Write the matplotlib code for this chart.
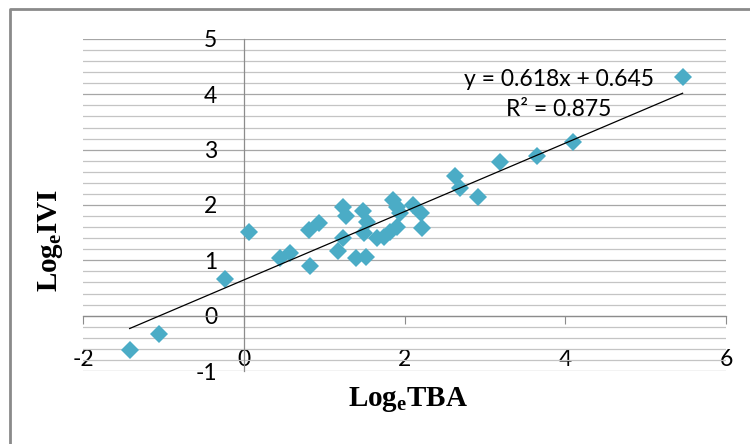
import numpy as np
import matplotlib
matplotlib.use("Agg")
import matplotlib.pyplot as plt
from matplotlib.lines import Line2D

# =========================================================
# DATA
# =========================================================

log_tba = [-1.42, -1.05, -0.23, 0.06, 0.45, 0.57, 0.83, 0.81, 0.94, 1.17,
           1.24, 1.24, 1.27, 1.40, 1.52, 1.48, 1.53, 1.49, 1.66, 1.74,
           1.86, 1.82, 1.91, 1.95, 1.91, 2.11, 2.20, 2.22, 2.63, 2.69,
           2.92, 3.19, 3.65, 4.10, 5.46]
log_ivi = [-0.62, -0.33, 0.66, 1.52, 1.04, 1.14, 0.90, 1.55, 1.67, 1.16,
           1.40, 1.97, 1.80, 1.04, 1.06, 1.90, 1.70, 1.49, 1.40, 1.43,
           2.09, 1.52, 1.61, 1.85, 1.97, 2.00, 1.85, 1.58, 2.52, 2.30,
           2.15, 2.78, 2.89, 3.14, 4.32]

slope = 0.618
intercept = 0.645
r2 = 0.875

x_ticks = [-2, 0, 2, 4, 6]
y_ticks = [-1, 0, 1, 2, 3, 4, 5]

# =========================================================
# STYLE
# =========================================================

plt.rcParams['font.family'] = ['Lato', 'DejaVu Sans']
plt.rcParams['axes.unicode_minus'] = False
plt.rcParams['mathtext.fontset'] = 'custom'
plt.rcParams['mathtext.rm'] = 'Liberation Serif'
plt.rcParams['mathtext.bf'] = 'Liberation Serif:bold'

marker_col = '#4bacc6'
axis_col = '#8c8c8c'
grid_major = '#a6a6a6'
grid_minor = '#c4c4c4'
tick_size = 16.5

# =========================================================
# PLOT
# =========================================================

fig = plt.figure(figsize=(7.5, 4.44), dpi=100)
ax = fig.add_axes([0.1107, 0.1644, 0.8573, 0.7478])

ax.plot(log_tba, log_ivi, linestyle='none', marker='D', markersize=9.5,
        color=marker_col, markeredgewidth=0, zorder=3)

# trendline over the data range
xl = np.array([min(log_tba), max(log_tba)])
ax.plot(xl, slope * xl + intercept, color='black', linewidth=0.9, zorder=4)

ax.set_xlim(-2, 6)
ax.set_ylim(-1, 5)
ax.set_xticks(x_ticks)
ax.set_yticks(y_ticks)
ax.set_yticks(np.arange(-1, 5.01, 0.2), minor=True)

ax.yaxis.grid(True, which='major', color=grid_major, linewidth=0.9)
ax.yaxis.grid(True, which='minor', color=grid_minor, linewidth=0.9)
ax.set_axisbelow(True)

for s in ['top', 'right']:
    ax.spines[s].set_visible(False)
ax.spines['left'].set_position(('data', 0))
ax.spines['bottom'].set_position(('data', 0))
ax.spines['left'].set_color(axis_col)
ax.spines['bottom'].set_color(axis_col)
ax.spines['left'].set_linewidth(0.9)
ax.spines['bottom'].set_linewidth(0.9)

ax.tick_params(axis='y', which='both', length=0, pad=19, labelsize=tick_size)
ax.tick_params(axis='x', which='major', direction='out', length=5.8,
               color=axis_col, pad=18, labelsize=tick_size)
ax.tick_params(axis='x', which='minor', length=0)

ax.text(3.92, 4.27, f"y = {slope}x + {intercept}", ha='center', va='center',
        fontsize=tick_size)
ax.text(3.92, 3.73, f"R² = {r2}", ha='center', va='center', fontsize=tick_size)

ax.set_xlabel(r'$\mathbf{Log_{e}TBA}$', fontsize=21)
ax.xaxis.set_label_coords(0.505, -0.086)
ax.xaxis.label.set_va('center')
ax.set_ylabel(r'$\mathbf{Log_{e}IVI}$', fontsize=21)
ax.yaxis.set_label_coords(-0.05, 0.395)
ax.yaxis.label.set_va('center')

# outer chart frame (only top and left edges are visible)
fig.add_artist(Line2D([10 / 750, 10 / 750, 1.0], [0.0, 1 - 9 / 444, 1 - 9 / 444],
                      transform=fig.transFigure, color='#8a8a8a', linewidth=2))

plt.savefig('out.png', dpi=100)
plt.close()
